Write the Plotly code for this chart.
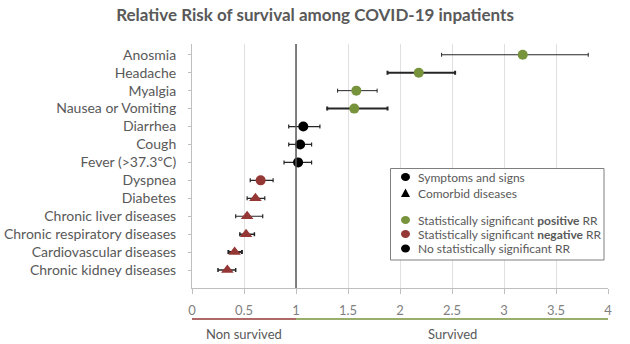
import plotly.graph_objects as go

categories = ["Anosmia", "Headache", "Myalgia", "Nausea or Vomiting", "Diarrhea", "Cough",
              "Fever (>37.3ºC)", "Dyspnea", "Diabetes", "Chronic liver diseases",
              "Chronic respiratory diseases", "Cardiovascular diseases", "Chronic kidney diseases"]
rr = [3.18, 2.18, 1.58, 1.56, 1.07, 1.04, 1.02, 0.66, 0.61, 0.53, 0.52, 0.41, 0.34]
ci_low = [2.40, 1.88, 1.40, 1.30, 0.93, 0.93, 0.885, 0.56, 0.53, 0.42, 0.46, 0.35, 0.25]
ci_high = [3.81, 2.53, 1.78, 1.88, 1.23, 1.15, 1.15, 0.78, 0.70, 0.68, 0.60, 0.48, 0.42]
group = ["sym", "sym", "sym", "sym", "sym", "sym", "sym", "sym", "com", "com", "com", "com", "com"]
signif = ["pos", "pos", "pos", "pos", "none", "none", "none", "neg", "neg", "neg", "neg", "neg", "neg"]
bar_width = [1, 2, 1, 2, 1.2, 1.2, 1.2, 1.2, 1.2, 1.2, 1.5, 2, 1.5]

legend_labels = ["Symptoms and signs", "Comorbid diseases",
                 "Statistically significant <b>positive</b> RR",
                 "Statistically significant <b>negative</b> RR",
                 "No statistically significant RR"]
legend_kinds = ["circle", "triangle", "circle", "circle", "circle"]
legend_colors = ["#000000", "#000000", "#77933C", "#953735", "#000000"]

colors = {"pos": "#77933C", "neg": "#953735", "none": "#000000"}
symbols = {"sym": "circle", "com": "triangle-up"}
sizes = {"sym": 10, "com": 11}

TXT = "#595959"
FONT = "Lato"

# plot area in pixels
L, R, T, B = 192, 608, 44, 288
W, H = 630, 344


def px_x(px):
    return (px - L) / (R - L)


def px_y(py):
    return (B - py) / (B - T)


n = len(categories)
ypos = [n - i for i in range(n)]

fig = go.Figure()
for i in range(n):
    fig.add_trace(go.Scatter(
        x=[rr[i]], y=[ypos[i]], mode="markers", showlegend=False,
        marker=dict(color=colors[signif[i]], symbol=symbols[group[i]], size=sizes[group[i]]),
        error_x=dict(type="data", symmetric=False, array=[ci_high[i] - rr[i]],
                     arrayminus=[rr[i] - ci_low[i]], color="#262626",
                     thickness=bar_width[i], width=2),
    ))

fig.add_vline(x=1, line=dict(color="#595959", width=1.5), layer="above")

# bottom survival bands
fig.add_shape(type="line", xref="x", yref="paper", x0=0, x1=1, y0=px_y(319), y1=px_y(319),
              line=dict(color="#953735", width=1.5))
fig.add_shape(type="line", xref="x", yref="paper", x0=1, x1=4, y0=px_y(319), y1=px_y(319),
              line=dict(color="#77933C", width=1.5))
fig.add_annotation(x=0.5, y=px_y(334), xref="x", yref="paper", text="Non survived", showarrow=False,
                   font=dict(size=13, color=TXT, family=FONT), yanchor="middle")
fig.add_annotation(x=2.5, y=px_y(334), xref="x", yref="paper", text="Survived", showarrow=False,
                   font=dict(size=13, color=TXT, family=FONT), yanchor="middle")

# manual legend
fig.add_shape(type="rect", xref="paper", yref="paper", x0=px_x(390.5), x1=px_x(604),
              y0=px_y(260), y1=px_y(168.5), line=dict(color="#7f7f7f", width=1),
              fillcolor="white", layer="above")
legend_rows = [177, 193, 220, 234, 248.5]
for lab, kind, col, py in zip(legend_labels, legend_kinds, legend_colors, legend_rows):
    if kind == "circle":
        fig.add_shape(type="circle", xref="paper", yref="paper", xsizemode="pixel", ysizemode="pixel",
                      xanchor=px_x(405.5), yanchor=px_y(py), x0=-4.5, x1=4.5, y0=-4, y1=4,
                      fillcolor=col, line=dict(width=0), layer="above")
    else:
        fig.add_shape(type="path", xref="paper", yref="paper", xsizemode="pixel", ysizemode="pixel",
                      xanchor=px_x(405.5), yanchor=px_y(py), path="M -4.5 -4 L 4.5 -4 L 0 4.5 Z",
                      fillcolor=col, line=dict(width=0), layer="above")
    fig.add_annotation(xref="paper", yref="paper", x=px_x(415.5), y=px_y(py), text=lab,
                       showarrow=False, xanchor="left", yanchor="middle",
                       font=dict(size=12, color=TXT, family=FONT))

fig.update_layout(
    width=W, height=H,
    margin=dict(l=L, r=W - R, t=T, b=H - B, autoexpand=False),
    paper_bgcolor="white", plot_bgcolor="white",
    font=dict(family=FONT, color=TXT, size=12),
    showlegend=False,
    title=dict(text="<b>Relative Risk of survival among COVID-19 inpatients</b>",
               x=0.5, xanchor="center", y=1 - 15 / H, yanchor="middle",
               font=dict(size=17, color=TXT, family=FONT)),
    xaxis=dict(range=[0, 4], dtick=0.5, showgrid=True, gridcolor="#e0e0e0", gridwidth=1,
               zeroline=False, showline=True, linecolor="#bfbfbf", ticks="outside",
               tickcolor="#bfbfbf", ticklen=5, ticklabelstandoff=5, automargin=False,
               tickfont=dict(size=13, color="#7f7f7f")),
    yaxis=dict(range=[0, 13.6], tickvals=ypos, ticktext=categories, showgrid=False,
               zeroline=False, showline=True, linecolor="#bfbfbf", ticks="outside",
               tickcolor="#bfbfbf", ticklen=3, ticklabelstandoff=9, automargin=False,
               tickfont=dict(size=14, color=TXT)),
)

fig.write_html("out.html")
